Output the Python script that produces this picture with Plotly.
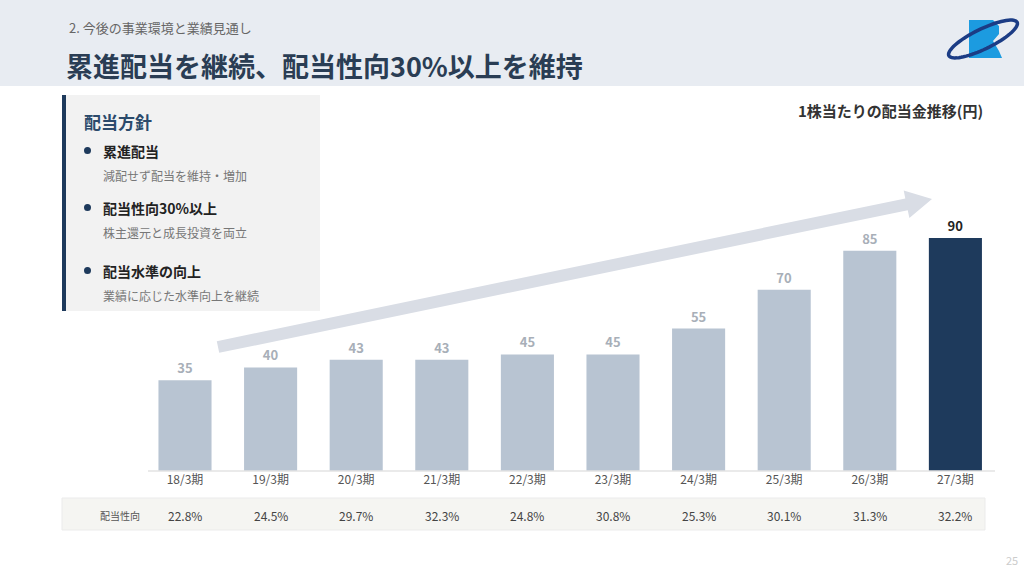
import plotly.graph_objects as go
import numpy as np

periods = ["18/3期", "19/3期", "20/3期", "21/3期", "22/3期", "23/3期", "24/3期", "25/3期", "26/3期", "27/3期"]
dividends = [35, 40, 43, 43, 45, 45, 55, 70, 85, 90]
payout = ["22.8%", "24.5%", "29.7%", "32.3%", "24.8%", "30.8%", "25.3%", "30.1%", "31.3%", "32.2%"]

policy_heads = ["累進配当", "配当性向30%以上", "配当水準の向上"]
policy_notes = ["減配せず配当を維持・増加", "株主還元と成長投資を両立", "業績に応じた水準向上を継続"]

W, H = 1024, 582
FONT = "Noto Sans CJK JP"
NAVY = "#1e3a5c"


def px(x, y):
    # pixel -> paper coords
    return x / W, 1 - y / H


def path_of(points, close=True):
    s = "M " + " L ".join("{:.5f} {:.5f}".format(*px(*p)) for p in points)
    return s + (" Z" if close else "")


bar_colors = ["#b8c4d2"] * (len(dividends) - 1) + [NAVY]
label_colors = ["#a8afb8"] * (len(dividends) - 1) + ["#222222"]

fig = go.Figure()
fig.add_trace(go.Bar(
    x=periods, y=dividends, marker_color=bar_colors, marker_line_width=0,
    text=[f"<b>{v}</b>" for v in dividends], textposition="outside",
    textfont=dict(family=FONT, size=13, color=label_colors),
    cliponaxis=False, hoverinfo="skip",
))

shapes = []
annotations = []

# header band
shapes.append(dict(type="rect", xref="paper", yref="paper", x0=0, x1=1,
                   y0=px(0, 86)[1], y1=1, fillcolor="#e8ecf2", line_width=0, layer="below"))
annotations.append(dict(text="2. 今後の事業環境と業績見通し", xref="paper", yref="paper",
                        x=px(67, 0)[0], y=px(0, 27)[1], xanchor="left", yanchor="middle",
                        showarrow=False, font=dict(family=FONT, size=13, color="#666666")))
annotations.append(dict(text="<b>累進配当を継続、配当性向30%以上を維持</b>", xref="paper", yref="paper",
                        x=px(64, 0)[0], y=px(0, 65)[1], xanchor="left", yanchor="middle",
                        showarrow=False, font=dict(family=FONT, size=27, color="#2a3d54")))

# logo
shapes.append(dict(type="path", xref="paper", yref="paper", fillcolor="#1c9be0", line_width=0,
                   path=path_of([(969, 20), (993, 20), (999, 26), (999, 34), (993, 41),
                                 (999, 51), (1002, 58), (969, 58)])))
t = np.linspace(0, 2 * np.pi, 72)
ang = np.deg2rad(-26)
ex = 983 + 38 * np.cos(t) * np.cos(ang) - 10 * np.sin(t) * np.sin(ang)
ey = 39 + 38 * np.cos(t) * np.sin(ang) + 10 * np.sin(t) * np.cos(ang)
shapes.append(dict(type="path", xref="paper", yref="paper", line=dict(color="#1b3c85", width=3.5),
                   path=path_of(list(zip(ex, ey)))))

# policy box
shapes.append(dict(type="rect", xref="paper", yref="paper", x0=px(62, 0)[0], x1=px(320, 0)[0],
                   y0=px(0, 311)[1], y1=px(0, 95)[1], fillcolor="#f2f2f2", line_width=0, layer="below"))
shapes.append(dict(type="rect", xref="paper", yref="paper", x0=px(62, 0)[0], x1=px(66, 0)[0],
                   y0=px(0, 311)[1], y1=px(0, 95)[1], fillcolor=NAVY, line_width=0))
annotations.append(dict(text="<b>配当方針</b>", xref="paper", yref="paper", x=px(82, 0)[0], y=px(0, 121)[1],
                        xanchor="left", yanchor="middle", showarrow=False,
                        font=dict(family=FONT, size=17, color="#2b4a6b")))
head_y = [151, 208, 271]
for hy, head, note in zip(head_y, policy_heads, policy_notes):
    shapes.append(dict(type="circle", xref="paper", yref="paper",
                       x0=px(84, 0)[0], x1=px(91, 0)[0], y0=px(0, hy + 3)[1], y1=px(0, hy - 4)[1],
                       fillcolor=NAVY, line_width=0))
    annotations.append(dict(text=f"<b>{head}</b>", xref="paper", yref="paper", x=px(101, 0)[0],
                            y=px(0, hy)[1], xanchor="left", yanchor="middle", showarrow=False,
                            font=dict(family=FONT, size=14, color="#222222")))
    annotations.append(dict(text=note, xref="paper", yref="paper", x=px(101, 0)[0],
                            y=px(0, hy + 24)[1], xanchor="left", yanchor="middle", showarrow=False,
                            font=dict(family=FONT, size=12, color="#777777")))

# chart title
annotations.append(dict(text="<b>1株当たりの配当金推移(円)</b>", xref="paper", yref="paper",
                        x=px(985, 0)[0], y=px(0, 110)[1], xanchor="right", yanchor="middle",
                        showarrow=False, font=dict(family=FONT, size=15, color="#333333")))

# growth arrow
tail = np.array([218.0, 347.0])
tip = np.array([932.0, 199.0])
u = (tip - tail) / np.linalg.norm(tip - tail)
n = np.array([u[1], -u[0]])
base = tip - 26 * u
hw, hh = 6, 14
poly = [tail + n * hw, base + n * hw, base + n * hh, tip, base - n * hh, base - n * hw, tail - n * hw]
shapes.append(dict(type="path", xref="paper", yref="paper", fillcolor="#d9dde5", line_width=0, layer="below",
                   path=path_of(poly)))

# baseline
shapes.append(dict(type="line", xref="paper", yref="paper", x0=px(148, 0)[0], x1=px(995, 0)[0],
                   y0=px(0, 471)[1], y1=px(0, 471)[1], line=dict(color="#e3e3e3", width=1.5)))

# payout table row
shapes.append(dict(type="rect", xref="paper", yref="paper", x0=px(62, 0)[0], x1=px(985, 0)[0],
                   y0=px(0, 530)[1], y1=px(0, 498)[1], fillcolor="#f5f5f2",
                   line=dict(color="#ebebeb", width=1), layer="below"))
annotations.append(dict(text="配当性向", xref="paper", yref="paper", x=px(142, 0)[0], y=px(0, 515)[1],
                        xanchor="right", yanchor="middle", showarrow=False,
                        font=dict(family=FONT, size=10, color="#555555")))
for p, r in zip(periods, payout):
    annotations.append(dict(text=r, x=p, xref="x", yref="paper", y=px(0, 515)[1],
                            xanchor="center", yanchor="middle", showarrow=False,
                            font=dict(family=FONT, size=12, color="#444444")))

# page number
annotations.append(dict(text="25", xref="paper", yref="paper", x=px(1020, 0)[0], y=px(0, 560)[1],
                        xanchor="right", yanchor="middle", showarrow=False,
                        font=dict(family=FONT, size=11, color="#cccccc")))

fig.update_layout(
    width=W, height=H, margin=dict(l=0, r=0, t=0, b=0),
    paper_bgcolor="white", plot_bgcolor="white", showlegend=False,
    bargap=0.38, shapes=shapes, annotations=annotations,
    xaxis=dict(domain=[142.2 / W, 998.2 / W], range=[-0.5, 9.5], showgrid=False, zeroline=False,
               showline=False, ticks="", tickfont=dict(family=FONT, size=12, color="#555555")),
    yaxis=dict(domain=[1 - 471 / H, 1 - 212 / H], range=[0, 100], visible=False),
)

fig.write_html("out.html", config={"displayModeBar": False},
               post_script="document.body.style.margin='0';document.body.style.overflow='hidden';")
